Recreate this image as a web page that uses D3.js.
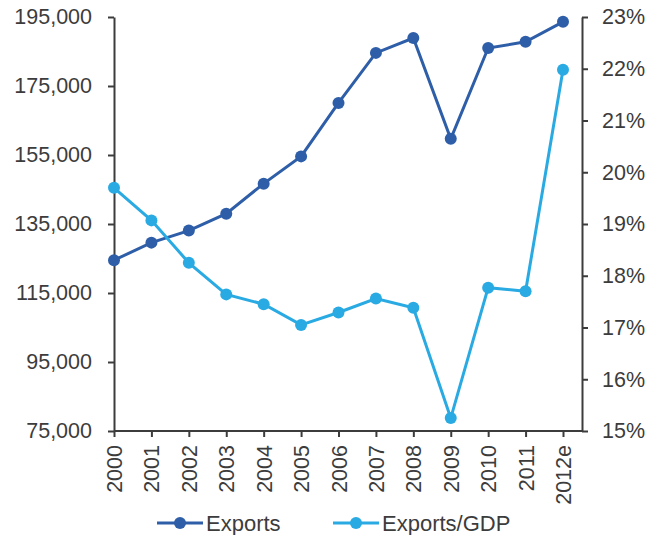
<!DOCTYPE html>
<html>
<head>
<meta charset="utf-8">
<script src="https://cdn.jsdelivr.net/npm/d3@7"></script>
<style>
  body { margin: 0; background: #fff; }
  svg text { font-family: "Liberation Sans", Arial, sans-serif; fill: #3c3c3c; }
</style>
</head>
<body>
<div class="canvas"></div>
<script>
// data
const years = ['2000','2001','2002','2003','2004','2005','2006','2007','2008','2009','2010','2011','2012e'];
const exports = [124500, 129600, 133100, 138000, 146700, 154600, 170100, 184600, 188900, 159700, 186000, 187800, 193600];
const exportsGdp = [19.70, 19.07, 18.25, 17.64, 17.45, 17.05, 17.29, 17.56, 17.38, 15.25, 17.77, 17.70, 21.98];
const leftTicks = [75000, 95000, 115000, 135000, 155000, 175000, 195000];
const rightTicks = [15, 16, 17, 18, 19, 20, 21, 22, 23];

const width = 650, height = 535;
const marginTop = 17, plotBottom = 431;
const xLeft = 114, xLast = 563, xRight = 582;

const dark = '#2e5ea8';
const light = '#2aaae2';
const axisColor = '#3c3c3c';

const svg = d3.select('.canvas').append('svg')
  .attr('width', width)
  .attr('height', height);

const x = d3.scalePoint().domain(years).range([xLeft, xLast]);
const yL = d3.scaleLinear().domain([75000, 195000]).range([plotBottom, marginTop]);
const yR = d3.scaleLinear().domain([15, 23]).range([plotBottom, marginTop]);

const fmt = d3.format(',');

// left axis
const gl = svg.append('g')
  .attr('transform', `translate(${xLeft},0)`)
  .call(d3.axisLeft(yL).tickValues(leftTicks).tickFormat(fmt).tickSize(6).tickSizeOuter(0).tickPadding(16));

// right axis
const gr = svg.append('g')
  .attr('transform', `translate(${xRight},0)`)
  .call(d3.axisRight(yR).tickValues(rightTicks).tickFormat(d => d + '%').tickSize(6).tickSizeOuter(0).tickPadding(14));

// bottom axis
const gb = svg.append('g')
  .attr('transform', `translate(0,${plotBottom})`)
  .call(d3.axisBottom(x).tickSize(6).tickSizeOuter(0));
gb.select('.domain').remove();
gb.append('line')
  .attr('x1', xLeft).attr('x2', xRight)
  .attr('y1', 0).attr('y2', 0)
  .attr('stroke', axisColor).attr('stroke-width', 2);
gb.selectAll('.tick text')
  .attr('transform', 'rotate(-90)')
  .attr('text-anchor', 'end')
  .attr('x', -14)
  .attr('y', 0)
  .attr('dy', '0.35em');

[gl, gr, gb].forEach(g => {
  g.selectAll('.domain').attr('stroke', axisColor).attr('stroke-width', 2);
  g.selectAll('.tick line').attr('stroke', axisColor).attr('stroke-width', 2);
  g.selectAll('.tick text').style('font-size', '21.5px').attr('fill', '#3c3c3c');
});

// series
function drawSeries(values, y, color) {
  const pts = values.map((v, i) => [x(years[i]), y(v)]);
  svg.append('path')
    .attr('d', d3.line()(pts))
    .attr('fill', 'none')
    .attr('stroke', color)
    .attr('stroke-width', 3);
  svg.append('g').selectAll('circle')
    .data(pts)
    .join('circle')
      .attr('cx', d => d[0])
      .attr('cy', d => d[1])
      .attr('r', 6)
      .attr('fill', color);
}
drawSeries(exports, yL, dark);
drawSeries(exportsGdp, yR, light);

// legend
const legend = [
  { name: 'Exports', color: dark, x: 157 },
  { name: 'Exports/GDP', color: light, x: 333 }
];
const lg = svg.append('g').attr('transform', 'translate(0,523)');
legend.forEach(l => {
  lg.append('line')
    .attr('x1', l.x).attr('x2', l.x + 46)
    .attr('y1', 0).attr('y2', 0)
    .attr('stroke', l.color).attr('stroke-width', 3);
  lg.append('circle')
    .attr('cx', l.x + 23).attr('cy', 0).attr('r', 6)
    .attr('fill', l.color);
  lg.append('text')
    .attr('x', l.x + 49).attr('y', 0).attr('dy', '0.35em')
    .style('font-size', '22px')
    .text(l.name);
});
</script>
</body>
</html>
